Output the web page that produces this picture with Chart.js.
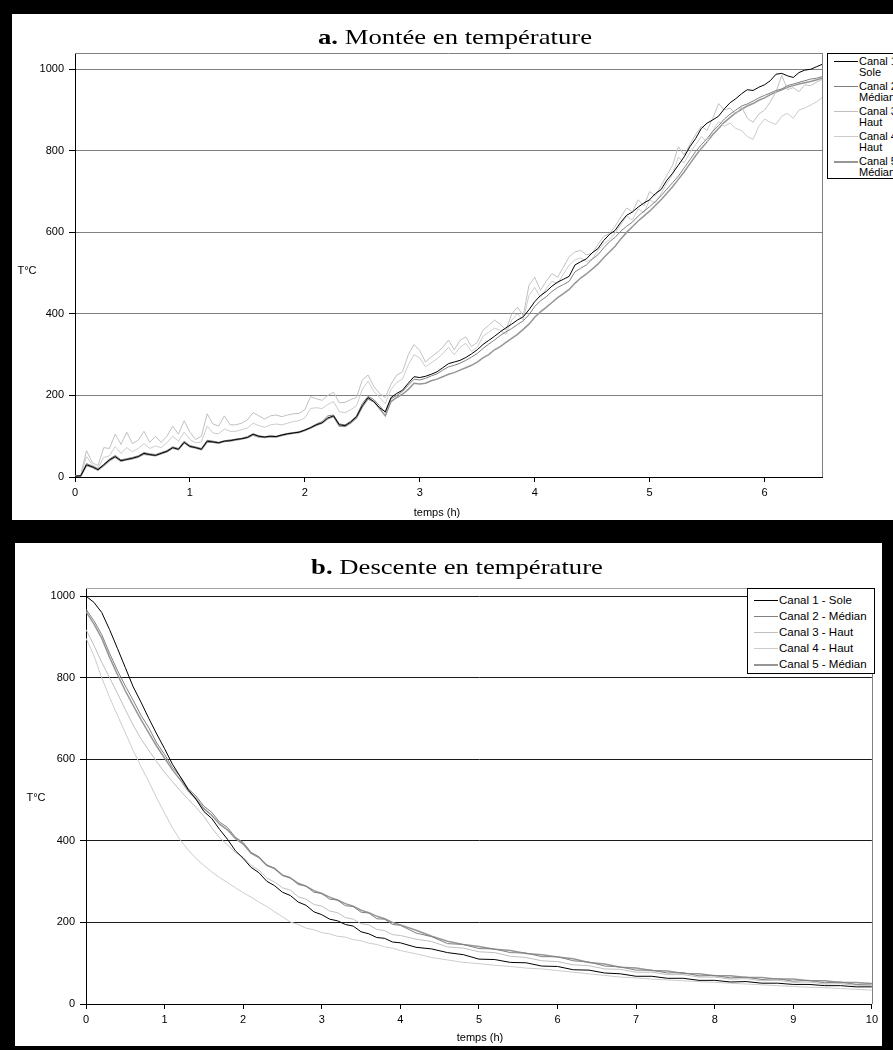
<!DOCTYPE html>
<html><head><meta charset="utf-8">
<script src="https://cdn.jsdelivr.net/npm/chart.js@4"></script>
<style>
html,body{margin:0;padding:0;background:#000;width:893px;height:1050px;overflow:hidden;}
.panel{position:absolute;background:#fff;overflow:hidden;}
#pa{left:12px;top:14px;width:881px;height:506px;}
#pb{left:15px;top:543px;width:867px;height:503px;}
canvas{position:absolute;left:0;top:0;}
.title{position:absolute;font-family:"Liberation Serif","Times New Roman",serif;font-size:21px;line-height:24px;white-space:nowrap;transform:translateX(-50%) scaleX(1.27);color:#000;}
.lab{position:absolute;font-family:"Liberation Sans",Arial,sans-serif;font-size:11px;line-height:13px;white-space:nowrap;transform:translate(-50%,-50%);color:#000;}
.legend{position:absolute;background:#fff;border:1px solid #000;box-sizing:border-box;font-family:"Liberation Sans",Arial,sans-serif;color:#000;}
.item{position:absolute;white-space:nowrap;}
.sw{position:absolute;height:0;}
</style></head>
<body>
<div class="panel" id="pa">
  <canvas id="ca" width="881" height="506"></canvas>
  <div class="title" style="left:443px;top:11px;"><b>a.</b> Montée en température</div>
  <div class="lab" style="left:15px;top:256px;">T°C</div>
  <div class="lab" style="left:425px;top:498px;">temps (h)</div>
  <div class="legend" id="lega" style="left:815px;top:39px;width:100px;height:126px;"></div>
</div>
<div class="panel" id="pb">
  <canvas id="cb" width="867" height="503"></canvas>
  <div class="title" style="left:442px;top:12px;"><b>b.</b> Descente en température</div>
  <div class="lab" style="left:21px;top:254px;">T°C</div>
  <div class="lab" style="left:465px;top:494px;">temps (h)</div>
  <div class="legend" id="legb" style="left:732px;top:45px;width:128px;height:86px;"></div>
</div>
<script>
// ---------- DATA ----------
const seriesNames = ["Canal 1 - Sole","Canal 2 - Médian","Canal 3 - Haut","Canal 4 - Haut","Canal 5 - Médian"];
const seriesColors = ["#000000","#808080","#c0c0c0","#cccccc","#969696"];
const seriesWidths = [1,1,1,1,1.5];

// Panel a: heating (hours)
const timesA = [0,0.05,0.1,0.15,0.2,0.25,0.3,0.35,0.4,0.45,0.5,0.55,0.6,0.65,0.7,0.75,0.8,0.85,0.9,0.95,
1,1.05,1.1,1.15,1.2,1.25,1.3,1.35,1.4,1.45,1.5,1.55,1.6,1.65,1.7,1.75,1.8,1.85,1.9,1.95,
2,2.05,2.1,2.15,2.2,2.25,2.3,2.35,2.4,2.45,2.5,2.55,2.6,2.65,2.7,2.75,2.8,2.85,2.9,2.95,
3,3.05,3.1,3.15,3.2,3.25,3.3,3.35,3.4,3.45,3.5,3.55,3.6,3.65,3.7,3.75,3.8,3.85,3.9,3.95,
4,4.05,4.1,4.15,4.2,4.25,4.3,4.35,4.4,4.45,4.5,4.55,4.6,4.65,4.7,4.75,4.8,4.85,4.9,4.95,
5,5.05,5.1,5.15,5.2,5.25,5.3,5.35,5.4,5.45,5.5,5.55,5.6,5.65,5.7,5.75,5.8,5.85,5.9,5.95,
6,6.05,6.1,6.15,6.2,6.25,6.3,6.35,6.4,6.45,6.5];
const a_canal1 = [2,3,30,25,18,30,42,50,40,43,46,50,58,55,53,58,63,72,68,85,
75,72,68,88,86,84,88,89,92,94,97,105,100,98,100,99,103,106,108,110,
115,121,128,133,145,150,128,126,135,148,175,195,185,170,160,195,205,213,230,246,
244,247,252,258,268,278,282,286,293,302,312,325,335,345,356,366,375,385,393,410,
430,445,455,468,478,485,492,520,528,535,550,560,580,595,605,625,642,650,662,672,
680,695,705,728,745,765,785,810,830,855,868,876,885,903,918,928,940,950,948,956,
962,972,988,990,984,980,992,998,1000,1006,1012];
const a_canal2 = [2,3,33,27,20,31,44,53,42,45,48,52,60,57,55,60,65,74,70,88,
77,74,70,90,88,85,89,91,93,95,99,106,101,99,101,100,104,107,109,111,
116,122,130,136,150,152,130,128,137,150,180,198,190,175,158,192,200,210,225,240,
238,242,248,253,262,270,274,279,286,294,303,315,326,336,347,356,364,374,383,398,
418,432,442,455,465,472,480,503,512,520,534,545,562,577,588,603,615,625,640,652,
663,676,690,706,722,738,758,778,798,815,830,848,862,878,890,900,910,915,922,930,
936,942,948,952,960,964,968,972,976,978,982];
const a_canal3 = [3,4,65,35,28,72,70,105,80,110,82,90,112,85,100,85,100,125,105,138,
110,92,100,155,130,125,150,128,128,132,140,158,150,142,150,152,148,152,155,156,
165,197,192,188,200,208,182,183,190,195,238,250,222,205,195,228,250,258,300,325,
310,282,295,305,318,336,312,335,344,320,330,360,372,385,375,360,400,417,395,470,
490,458,480,499,490,515,540,552,556,545,548,570,590,597,615,638,660,650,680,665,
700,690,715,740,765,810,790,815,840,860,850,880,916,900,905,890,908,880,870,890,
900,920,945,985,950,955,945,962,960,968,975];
const a_canal4 = [3,4,50,30,22,48,52,75,58,72,62,70,82,70,76,72,84,100,88,110,
92,84,86,125,108,106,118,112,112,116,120,132,126,122,128,130,128,132,136,138,
145,168,170,168,178,185,160,158,165,175,215,235,210,195,180,215,232,240,275,300,
292,270,280,290,302,318,300,318,328,308,318,345,355,365,360,350,385,400,385,445,
465,440,462,480,475,498,520,532,538,528,535,555,572,582,598,620,640,630,658,648,
680,672,695,720,742,785,770,795,815,835,822,850,872,860,868,855,850,835,828,860,
878,870,865,885,892,880,900,905,912,920,930];
const a_canal5 = [1,2,28,24,17,28,40,49,39,42,45,49,56,54,52,57,62,71,67,84,
74,71,67,86,85,83,87,88,91,93,96,103,98,97,99,98,102,105,107,109,
114,120,127,132,143,148,125,124,133,145,172,192,185,168,150,185,195,203,215,230,
228,230,236,240,246,252,256,262,268,274,282,292,300,312,320,330,340,350,362,375,
392,405,416,428,440,450,460,475,488,498,510,522,538,552,566,584,600,614,628,640,
652,666,680,696,712,730,748,768,788,806,822,840,855,870,882,893,902,910,916,924,
930,938,944,950,956,960,964,967,970,974,978];

// Panel b: cooling (hours)
const timesB = [0,0.1,0.2,0.3,0.4,0.5,0.6,0.7,0.8,0.9,
1,1.1,1.2,1.3,1.4,1.5,1.6,1.7,1.8,1.9,
2,2.1,2.2,2.3,2.4,2.5,2.6,2.7,2.8,2.9,
3,3.1,3.2,3.3,3.4,3.5,3.6,3.7,3.8,3.9,
4,
4.2,4.4,4.6,4.8,5,5.2,5.4,5.6,5.8,6,6.2,6.4,6.6,6.8,7,7.2,7.4,7.6,7.8,8,8.2,8.4,8.6,8.8,9,9.2,9.4,9.6,9.8,10];
const b_canal1 = [1000,985,960,918,872,825,778,740,700,662,
626,588,557,526,502,472,455,428,404,376,
357,335,322,301,290,274,266,250,242,226,
219,208,204,195,191,177,172,163,161,152,
150,
139,135,126,121,110,109,102,101,93,92,84,83,76,74,68,68,63,63,58,58,54,55,51,51,48,48,45,45,42,42];
const b_canal2 = [968,940,906,860,818,780,745,708,677,640,
612,580,558,528,510,485,470,446,433,409,
396,372,361,341,333,315,310,293,289,274,
271,257,255,241,239,225,223,209,208,195,
193,
174,165,148,146,136,135,126,125,116,116,106,103,93,91,83,83,76,77,69,70,64,66,60,62,56,58,52,54,48,49];
const b_canal3 = [918,880,838,800,762,722,684,650,622,594,
568,545,523,502,482,460,432,408,390,372,
360,340,328,309,299,285,279,263,257,244,
240,228,224,212,208,197,194,183,180,170,
168,
159,153,140,137,128,126,117,114,106,104,96,94,86,85,78,78,72,72,66,66,61,62,57,58,53,54,49,50,46,45];
const b_canal4 = [897,855,800,752,708,665,622,582,545,505,
468,432,402,378,357,340,324,310,298,285,
273,262,250,239,226,214,201,195,186,182,
175,172,166,164,158,155,149,146,140,137,
131,
123,114,108,102,99,95,92,88,86,82,78,74,70,66,64,61,59,57,55,53,51,49,47,45,43,41,40,38,36,34];
const b_canal5 = [962,932,897,850,808,768,732,697,664,632,
603,574,550,523,503,479,463,441,427,406,
392,370,359,340,332,316,309,296,289,278,
271,262,255,246,240,230,224,215,209,200,
194,
181,166,154,146,141,134,131,124,121,115,111,102,98,90,88,82,81,75,74,69,69,65,65,61,61,57,57,53,53,50];

const yTicksA = [0,200,400,600,800,1000];
const xTicksA = [0,1,2,3,4,5,6];
const yTicksB = [0,200,400,600,800,1000];
const xTicksB = [0,1,2,3,4,5,6,7,8,9,10];

// ---------- CHARTS ----------
const FONT = {family:'"Liberation Sans", Arial, sans-serif', size:11};

function ds(times, vals, i){
  return {label:seriesNames[i], data:times.map((t,k)=>({x:t,y:vals[k]})),
    borderColor:seriesColors[i], backgroundColor:seriesColors[i], borderWidth:seriesWidths[i],
    pointRadius:0, tension:0, fill:false};
}
const framePlugin = {id:'frame', beforeDatasetsDraw(chart, args, o){
  const {ctx, chartArea:a} = chart;
  ctx.save(); ctx.lineWidth = 1;
  ctx.strokeStyle = o.topColor; ctx.beginPath();
  ctx.moveTo(a.left, Math.round(a.top)+0.5); ctx.lineTo(a.right, Math.round(a.top)+0.5); ctx.stroke();
  ctx.strokeStyle = o.rightColor; ctx.beginPath();
  ctx.moveTo(Math.round(a.right)+0.5, a.top); ctx.lineTo(Math.round(a.right)+0.5, a.bottom); ctx.stroke();
  ctx.restore();
}};

function makeChart(id, times, list, cfg){
  return new Chart(document.getElementById(id), {
    type:'line',
    data:{datasets:list.map((v,i)=>ds(times, v, i))},
    plugins:[framePlugin],
    options:{
      responsive:false, animation:false, devicePixelRatio:1,
      layout:{padding:{top:cfg.padTop, right:cfg.padRight, left:0, bottom:0}},
      plugins:{legend:{display:false}, tooltip:{enabled:false}, title:{display:false},
        frame:{topColor:cfg.topColor, rightColor:cfg.rightColor}},
      scales:{
        x:{type:'linear', min:0, max:cfg.xMax,
          afterBuildTicks:s=>{s.ticks = cfg.xTicks.map(v=>({value:v}));},
          afterFit:s=>{s.height = cfg.xHeight;},
          ticks:{color:'#000', font:FONT, padding:4, maxRotation:0, autoSkip:false, callback:v=>String(v)},
          grid:{drawOnChartArea:false, drawTicks:true, tickLength:5, tickColor:'#000'},
          border:{display:true, color:'#000', width:1}},
        y:{type:'linear', min:0, max:cfg.yMax,
          afterBuildTicks:s=>{s.ticks = cfg.yTicks.map(v=>({value:v}));},
          afterFit:s=>{s.width = cfg.yWidth;},
          ticks:{color:'#000', font:FONT, padding:5, callback:v=>String(v)},
          grid:{color:c=>(c.tick && c.tick.value===0)?'#000':cfg.gridColor, lineWidth:1, drawTicks:true, tickLength:6, tickColor:'#000'},
          border:{display:true, color:'#000', width:1}}
      }
    }
  });
}

makeChart('ca', timesA, [a_canal1,a_canal2,a_canal3,a_canal4,a_canal5],
  {padTop:39, padRight:71, xMax:6.5, yMax:1040, xHeight:43, yWidth:63, xTicks:xTicksA, yTicks:yTicksA,
   gridColor:'#808080', topColor:'#808080', rightColor:'#808080'});
makeChart('cb', timesB, [b_canal1,b_canal2,b_canal3,b_canal4,b_canal5],
  {padTop:45, padRight:9, xMax:10, yMax:1020, xHeight:42, yWidth:71, xTicks:xTicksB, yTicks:yTicksB,
   gridColor:'#1a1a1a', topColor:'#a6a6a6', rightColor:'#808080'});

// ---------- LEGENDS ----------
function buildLegend(id, cfg){
  const el = document.getElementById(id);
  seriesNames.forEach((name,i)=>{
    const y = cfg.y0 + cfg.dy*i;
    const sw = document.createElement('div');
    sw.className='sw';
    sw.style.cssText = `left:${cfg.lx}px;width:${cfg.lw}px;top:${y - Math.floor(seriesWidths[i]/2)}px;border-top:${Math.max(1,Math.round(seriesWidths[i]))}px solid ${seriesColors[i]};`;
    el.appendChild(sw);
    const tx = document.createElement('div');
    tx.className='item';
    tx.style.cssText = `left:${cfg.tx}px;top:${y - cfg.lh/2}px;font-size:${cfg.fs}px;line-height:${cfg.lh}px;`;
    if (cfg.wrap){
      const parts = name.split(' - ');
      tx.innerHTML = parts[0] + ' -<br>' + parts[1];
    } else tx.textContent = name;
    el.appendChild(tx);
  });
}
buildLegend('lega', {y0:7, dy:25, lx:6, lw:24, tx:31, fs:11, lh:11, wrap:true});
buildLegend('legb', {y0:11, dy:16, lx:6, lw:24, tx:31, fs:11.5, lh:13, wrap:false});
</script>
</body></html>
